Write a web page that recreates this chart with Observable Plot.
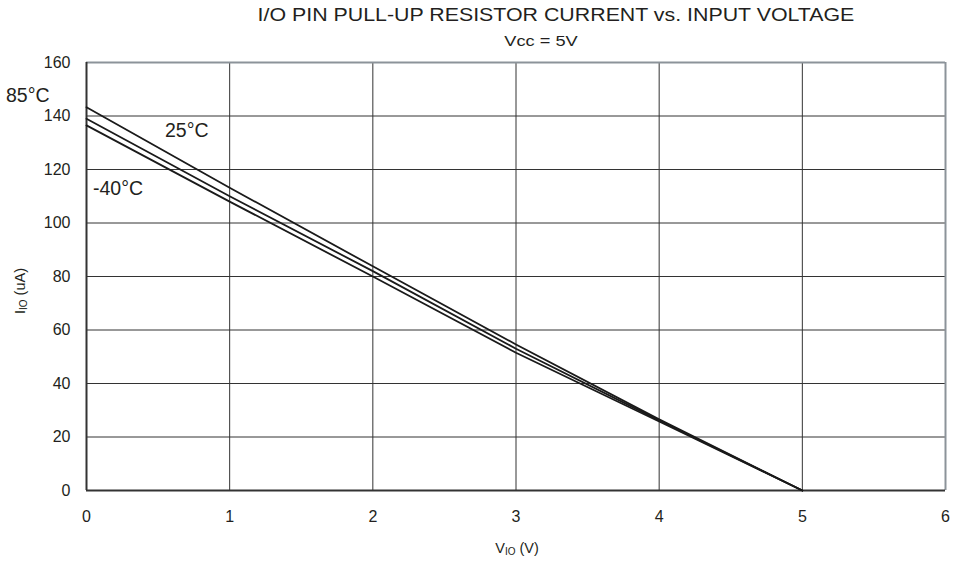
<!DOCTYPE html>
<html>
<head>
<meta charset="utf-8">
<script src="https://cdn.jsdelivr.net/npm/d3@7"></script>
<script src="https://cdn.jsdelivr.net/npm/@observablehq/plot@0.6"></script>
<style>
  body { margin: 0; background: #fff; font-family: "Liberation Sans", Arial, sans-serif; }
  #wrap { position: relative; width: 967px; height: 564px; }
  .t { position: absolute; color: #231f20; white-space: nowrap; }
  g[aria-label$="tick label"] text { font-size: 16px; }
</style>
</head>
<body>
<div id="wrap">
  <div class="t" id="title" style="left:556px; top:5px; transform:translateX(-50%) scaleX(1.22); font-size:17.5px;">I/O PIN PULL-UP RESISTOR CURRENT vs. INPUT VOLTAGE</div>
  <div class="t" id="subtitle" style="left:541px; top:33px; transform:translateX(-50%) scaleX(1.3); font-size:14px;">Vcc = 5V</div>
  <div class="t" id="ylabel" style="left:20px; top:291px; transform:translate(-50%,-50%) rotate(-90deg); font-size:14.5px;">I<sub style="font-size:10px; vertical-align:-2px;">IO</sub> (uA)</div>
  <div class="t" id="xlabel" style="left:517px; top:540px; transform:translateX(-50%); font-size:14.5px;">V<sub style="font-size:10px; vertical-align:-2px;">IO</sub> (V)</div>
</div>
<script>
// Data (V_IO in volts, I_IO in uA)
const voltages = [0, 1, 2, 3, 4, 5];
const current85 = [143.3, 113.2, 83.8, 54.6, 26.6, 0];
const current25 = [139.0, 110.0, 82.0, 53.0, 26.2, 0];
const currentM40 = [136.5, 108.0, 80.0, 51.5, 25.8, 0];
const seriesNames = ["85°C", "25°C", "-40°C"];
const xTicks = [0, 1, 2, 3, 4, 5, 6];
const yTicks = [0, 20, 40, 60, 80, 100, 120, 140, 160];

const seriesValues = [current85, current25, currentM40];
const rows = [];
seriesNames.forEach((name, i) => {
  voltages.forEach((v, j) => rows.push({series: name, v, i: seriesValues[i][j]}));
});

// label anchors (data coordinates)
const labelPos = [
  {text: "85°C", v: -0.41, i: 147.5},
  {text: "25°C", v: 0.70, i: 134.6},
  {text: "-40°C", v: 0.22, i: 112.9}
];

const chart = Plot.plot({
  width: 967,
  height: 564,
  marginLeft: 86,
  marginRight: 22,
  marginTop: 62,
  marginBottom: 74,
  style: {fontFamily: "Liberation Sans, Arial, sans-serif", fontSize: "16px", color: "#231f20", background: "#fff"},
  x: {domain: [0, 6], label: null},
  y: {domain: [0, 160], label: null},
  marks: [
    Plot.gridX(xTicks.slice(1, -1), {stroke: "#333", strokeOpacity: 1, strokeWidth: 1}),
    Plot.gridY(yTicks.slice(1, -1), {stroke: "#333", strokeOpacity: 1, strokeWidth: 1}),
    Plot.ruleX([6], {stroke: "#8c939a", strokeWidth: 2}),
    Plot.ruleY([160], {stroke: "#8c939a", strokeWidth: 2}),
    Plot.ruleX([0], {stroke: "#333", strokeWidth: 2}),
    Plot.ruleY([0], {stroke: "#333", strokeWidth: 2}),
    Plot.axisX(xTicks, {tickSize: 0, tickPadding: 20, fontSize: 16, fill: "#231f20", tickFormat: d => String(d), label: null}),
    Plot.axisY(yTicks, {tickSize: 0, tickPadding: 16, fontSize: 16, fill: "#231f20", tickFormat: d => String(d), label: null}),
    Plot.line(rows, {x: "v", y: "i", z: "series", stroke: "#1a1a1a", strokeWidth: 1.8}),
    Plot.text(labelPos, {x: "v", y: "i", text: "text", fontSize: 19.5, fill: "#231f20", clip: false})
  ]
});
document.getElementById("wrap").prepend(chart);
chart.style.position = "absolute";
chart.style.left = "0";
chart.style.top = "0";
</script>
</body>
</html>
